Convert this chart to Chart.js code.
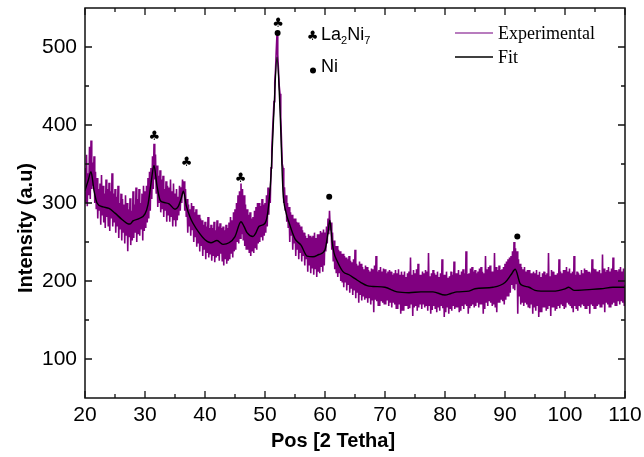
<!DOCTYPE html>
<html><head><meta charset="utf-8">
<script src="https://cdn.jsdelivr.net/npm/chart.js@4"></script>
<style>html,body{margin:0;padding:0;background:#fff}</style>
</head><body>
<canvas id="c" width="644" height="457"></canvas>
<script>
// ---- data ----
const expStart = 20, expStep = 0.125;
const expY = [
345,300,362,296,338,310,372,305, 380,318,352,322,360,300,340,292, 332,280,318,290,325,272,336,284,
322,275,312,268,330,282,318,270, 326,264,315,280,338,270,312,275, 318,262,308,270,322,255,300,266,
312,252,305,262,298,248,310,258, 300,238,292,256,306,246,290,252, 315,255,298,262,320,250,305,260,
318,258,300,266,312,252,322,264, 315,268,322,275,332,280,340,290, 345,305,360,318,376,330,362,312,
348,295,335,300,342,288,330,292, 335,282,318,290,328,276,322,284, 320,276,330,282,315,270,325,278,
312,270,318,278,308,284,322,290, 320,300,330,312,328,290,318,282, 305,262,298,270,292,258,300,265,
296,250,288,256,292,244,285,248, 285,238,280,245,278,232,272,240, 276,228,270,236,282,230,268,234,
272,226,268,232,276,224,265,230, 278,232,270,226,274,235,268,225, 270,220,265,228,272,222,268,226,
275,228,282,235,278,230,288,238, 292,240,300,250,310,248,315,255, 325,260,318,252,310,245,298,240,
292,240,285,236,288,232,280,238, 282,236,290,242,295,240,300,248, 300,250,296,256,305,252,298,258,
300,262,310,270,320,285,318,300, 345,368,390,410,430,455,470,495, 517,490,470,450,440,410,380,350,
345,300,320,290,310,276,300,268, 295,250,288,258,285,240,280,248, 280,232,276,240,275,228,272,236,
270,225,265,232,262,220,258,228, 255,212,260,220,258,210,256,216, 258,208,262,215,255,205,260,212,
260,210,264,218,262,212,266,220, 262,238,270,248,280,260,290,265, 275,240,262,225,252,215,245,210,
245,205,240,210,238,200,235,198, 235,192,232,198,230,188,228,195, 232,185,226,190,224,182,228,188,
240,178,222,185,220,172,225,182, 222,175,218,180,215,176,220,178, 218,172,214,178,212,170,216,175,
215,160,220,176,232,174,212,168, 214,168,218,174,212,172,216,170, 215,170,210,175,212,168,214,172,
212,166,208,172,210,170,214,165, 210,164,215,170,208,158,212,162, 208,162,212,168,205,168,210,164,
212,165,230,170,208,155,214,166, 210,168,215,162,222,166,208,170, 208,164,212,170,210,166,214,168,
212,162,236,168,206,158,210,163, 214,168,210,164,208,160,212,166, 205,162,210,168,228,165,208,154,
208,160,212,166,204,158,206,164, 212,162,208,168,225,164,210,166, 210,166,214,160,208,162,212,168,
215,164,210,170,238,168,209,158, 210,165,216,168,218,170,212,166, 214,168,210,172,212,166,216,170,
218,170,212,158,210,164,232,172, 215,168,218,174,220,172,212,168, 212,170,236,166,218,160,214,172,
220,172,214,176,215,174,218,170, 222,176,225,180,228,180,230,185, 232,195,238,190,250,188,242,196,
238,158,228,180,222,170,218,172, 215,168,218,172,212,170,214,166, 214,165,210,170,210,158,212,166,
210,162,214,168,208,154,212,160, 205,160,210,166,212,166,208,162, 210,164,236,168,206,155,214,166,
212,166,208,162,208,164,210,168, 228,165,212,170,210,168,214,164, 214,166,218,172,212,170,216,168,
210,165,212,160,232,168,208,164, 212,162,210,168,208,166,214,170, 210,168,216,164,214,164,212,168,
212,158,210,170,228,168,216,164, 215,164,212,168,212,170,214,166, 210,166,234,170,216,160,212,172,
214,170,218,166,212,166,216,170, 230,172,214,168,214,168,212,174, 215,170,218,174,212,172,216,168,
195
];
const fitX = [20,20.5,21,21.5,22,23,24,25,26,27,27.5,28,29,30,30.5,31,31.5,32,32.5,33,34,35,35.5,36,36.4,36.9,37.5,38,39,40,41,42,43,44,45,46,46.5,47,48,48.5,49,50,50.5,51,51.5,52,52.5,53,53.5,54,55,56,57,58,59,60,60.5,60.8,61.2,61.5,62,63,64,65,66,67,68,70,72,74,76,78,80,81,82,84,85,88,90,91,91.7,92.5,93,94,95,96,98,100,100.6,101.5,104,106,108,110];
const fitY = [316,328,340,316,300,295,293,287,280,274,273,277,280,286,298,325,348,322,304,301,299,292,295,305,315,296,282,274,262,253,249,252,247,249,257,276,270,262,257,262,270,274,290,335,420,487,420,315,288,275,254,246,232,231,234,240,262,278,250,236,226,212,208,203,198,194,193,192,186,185,186,186,182,184,186,187,190,192,198,208,215,197,194,192,188,187,187,190,192,188,189,190,192,192];
const xTicks = [20,30,40,50,60,70,80,90,100,110];
const xMinor = [25,35,45,55,65,75,85,95,105];
const yTicks = [100,200,300,400,500];
const yMinor = [150,250,350,450];
const clubX = [31.55,36.95,45.95,52.2];
const clubY = [385,352,331,530];
const dotX = [52.1,60.7,92.05];
const dotY = [518,308,257];
const seriesNames = ['Experimental','Fit'];

const expData = expY.map((v,i)=>({x: expStart + i*expStep, y: v}));
const fitData = fitX.map((v,i)=>({x: v, y: fitY[i]}));

const tickFont = {family:'Liberation Sans, Arial, sans-serif', size:21};

function club(ctx, px, py){
  ctx.font = '13px "DejaVu Sans"';
  ctx.textAlign='center'; ctx.textBaseline='middle';
  ctx.fillText('\u2663', px, py);
}
function dot(ctx, px, py){
  ctx.beginPath(); ctx.arc(px, py, 3, 0, Math.PI*2); ctx.fill();
}

const decor = {
  id:'decor',
  afterDraw(chart){
    const {ctx, chartArea:a, scales:{x, y}} = chart;
    ctx.save();
    ctx.strokeStyle='#111'; ctx.fillStyle='#000';
    ctx.lineWidth=1.5;
    ctx.strokeRect(a.left, a.top, a.right-a.left, a.bottom-a.top);
    ctx.lineWidth=1.3;
    ctx.beginPath();
    const tk = (arr, len) => {
      arr.forEach(v=>{
        const px = x.getPixelForValue(v);
        ctx.moveTo(px, a.bottom); ctx.lineTo(px, a.bottom-len);
        ctx.moveTo(px, a.top); ctx.lineTo(px, a.top+len);
      });
    };
    const tky = (arr, len) => {
      arr.forEach(v=>{
        const py = y.getPixelForValue(v);
        ctx.moveTo(a.left, py); ctx.lineTo(a.left+len, py);
        ctx.moveTo(a.right, py); ctx.lineTo(a.right-len, py);
      });
    };
    tk(xTicks, 7); tk(xMinor, 4); tky(yTicks, 7); tky(yMinor, 4);
    ctx.stroke();

    // phase markers
    clubX.forEach((v,i)=>club(ctx, x.getPixelForValue(v), y.getPixelForValue(clubY[i])));
    dotX.forEach((v,i)=>dot(ctx, x.getPixelForValue(v), y.getPixelForValue(dotY[i])));

    // axis titles
    ctx.font = 'bold 20px "Liberation Sans", Arial, sans-serif';
    ctx.textAlign='center'; ctx.textBaseline='middle';
    ctx.fillText('Pos [2 Tetha]', 333, 441);
    ctx.save();
    ctx.translate(26, 228); ctx.rotate(-Math.PI/2);
    ctx.fillText('Intensity (a.u)', 0, 0);
    ctx.restore();

    // phase legend
    club(ctx, 312.5, 37);
    ctx.textAlign='left'; ctx.textBaseline='alphabetic';
    let cx = 321;
    const big = '18px "Liberation Sans", Arial, sans-serif', small='11px "Liberation Sans", Arial, sans-serif';
    ctx.font=big; ctx.fillText('La', cx, 40); cx += ctx.measureText('La').width;
    ctx.font=small; ctx.fillText('2', cx, 44); cx += ctx.measureText('2').width;
    ctx.font=big; ctx.fillText('Ni', cx, 40); cx += ctx.measureText('Ni').width;
    ctx.font=small; ctx.fillText('7', cx, 44);
    dot(ctx, 313, 70.5);
    ctx.font=big; ctx.fillText('Ni', 321, 72);

    // series legend
    ctx.lineWidth=1.5;
    ctx.strokeStyle='#a050a8';
    ctx.beginPath(); ctx.moveTo(455,33); ctx.lineTo(493,33); ctx.stroke();
    ctx.strokeStyle='#000';
    ctx.beginPath(); ctx.moveTo(455,57); ctx.lineTo(493,57); ctx.stroke();
    ctx.font='18px "Liberation Serif", "Times New Roman", serif';
    ctx.fillText(seriesNames[0], 498, 39);
    ctx.fillText(seriesNames[1], 498, 63);
    ctx.restore();
  }
};

new Chart(document.getElementById('c'), {
  type:'line',
  data:{datasets:[
    {label:seriesNames[0], data:expData, borderColor:'#800080', borderWidth:1.6, pointRadius:0, tension:0, order:1},
    {label:seriesNames[1], data:fitData, borderColor:'#000', borderWidth:1.4, pointRadius:0, cubicInterpolationMode:'monotone', order:0}
  ]},
  options:{
    responsive:false, animation:false, devicePixelRatio:1,
    layout:{padding:{left:0,right:19,top:8,bottom:0}},
    plugins:{legend:{display:false}, tooltip:{enabled:false}},
    scales:{
      x:{type:'linear', min:20, max:110,
        afterBuildTicks:s=>{s.ticks = xTicks.map(v=>({value:v}));},
        afterFit:s=>{s.height=59; s.paddingLeft=0; s.paddingRight=0;},
        grid:{display:false, drawTicks:false}, border:{display:false},
        ticks:{font:tickFont, color:'#000', padding:5, maxRotation:0, autoSkip:false}},
      y:{type:'linear', min:50, max:550,
        afterBuildTicks:s=>{s.ticks = yTicks.map(v=>({value:v}));},
        afterFit:s=>{s.width=85; s.paddingTop=0; s.paddingBottom=0;},
        grid:{display:false, drawTicks:false}, border:{display:false},
        ticks:{font:tickFont, color:'#000', padding:8, autoSkip:false}}
    }
  },
  plugins:[decor]
});
</script>
</body></html>
